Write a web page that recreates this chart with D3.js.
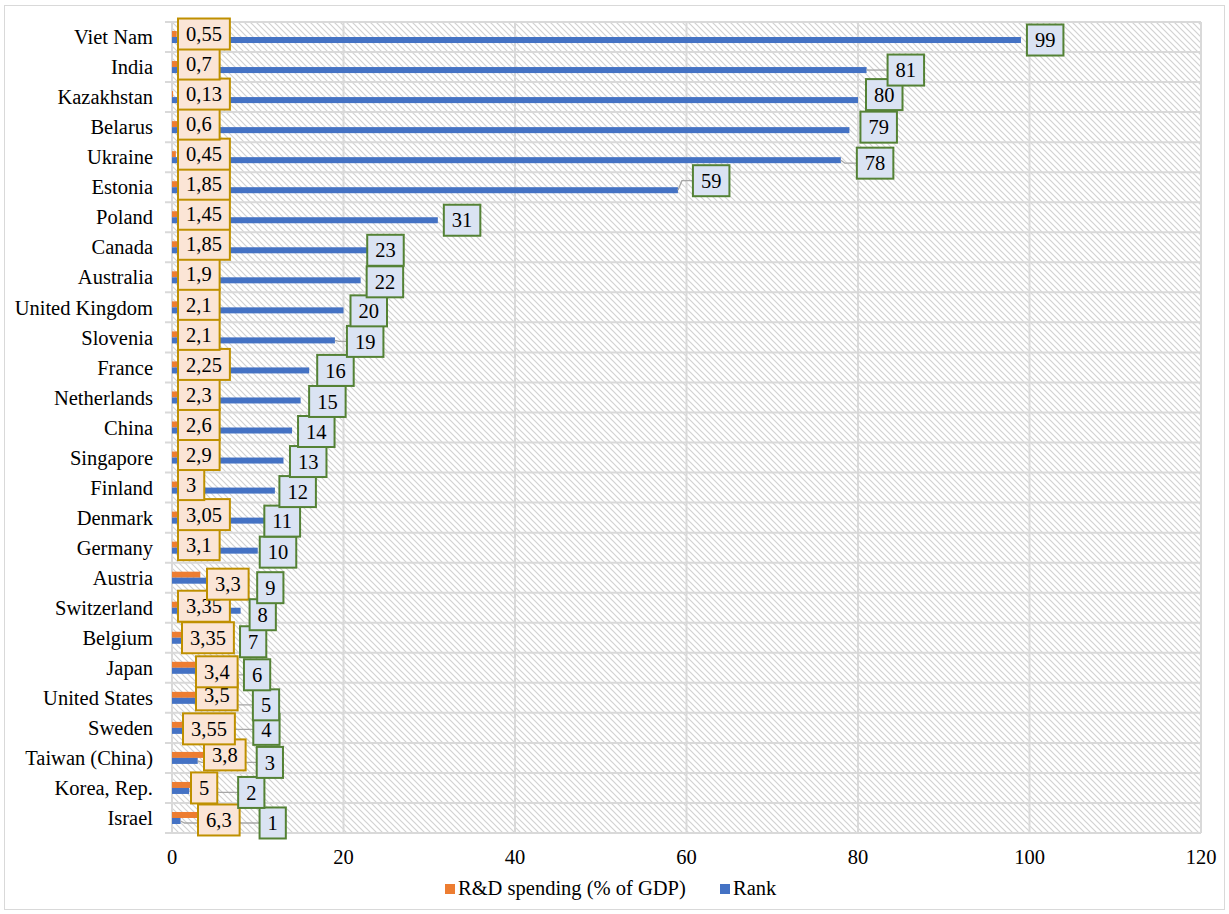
<!DOCTYPE html>
<html>
<head>
<meta charset="utf-8">
<script src="https://cdn.jsdelivr.net/npm/d3@7"></script>
<style>
  body { margin: 0; background: #fff; }
  svg text { font-family: "Liberation Serif", "Times New Roman", serif; fill: #000; }
</style>
</head>
<body>
<svg id="chart" width="1229" height="914"></svg>
<script>
// ---- data (top row first) ----
const countries = [
  "Viet Nam", "India", "Kazakhstan", "Belarus", "Ukraine", "Estonia", "Poland",
  "Canada", "Australia", "United Kingdom", "Slovenia", "France", "Netherlands",
  "China", "Singapore", "Finland", "Denmark", "Germany", "Austria", "Switzerland",
  "Belgium", "Japan", "United States", "Sweden", "Taiwan (China)", "Korea, Rep.", "Israel"
];
const rdSpending = [
  0.55, 0.7, 0.13, 0.6, 0.45, 1.85, 1.45, 1.85, 1.9, 2.1, 2.1, 2.25, 2.3,
  2.6, 2.9, 3, 3.05, 3.1, 3.3, 3.35, 3.35, 3.4, 3.5, 3.55, 3.8, 5, 6.3
];
const rankValues = [
  99, 81, 80, 79, 78, 59, 31, 23, 22, 20, 19, 16, 15, 14, 13, 12, 11, 10,
  9, 8, 7, 6, 5, 4, 3, 2, 1
];
const xTicks = [0, 20, 40, 60, 80, 100, 120];
const seriesNames = ["R&D spending (% of GDP)", "Rank"];

// ---- hand-moved data labels: pixel offsets from their default spot ----
const rdLabelShift = [
  [0, 0], [0, 0], [0, 0], [0, 0], [0, 0], [0, 0], [0, 0], [0, 0], [0, 0],
  [0, 0], [0, 0], [0, 0], [0, 0], [0, 0], [0, 0], [0, 0], [0, 0], [0, 0],
  [29, 9.5], [0, 1.5], [4, 3], [18, 7], [18, 0], [5, 4], [26, 0], [13, 3], [20, 5]
];
const rankLabelShift = [
  [0, 0], [15, 0], [2, -5.5], [5, -3], [10, 3], [9, -9.5], [0, 0], [-8, 0], [0, 1.5],
  [1, 0.5], [6, 1], [2, 0], [2.5, 1], [0, 1], [0.5, 1], [-1.5, 1], [-8, 0.5], [-4, 1.5],
  [2, 7], [3, 4], [2, 1], [14.5, 4], [32, 4], [41, -1.5], [53, 1.5], [43, 1.5], [73, 2]
];

// ---- layout ----
const plot = { left: 172, top: 22, right: 1201, bottom: 833 };
const colors = { rd: "#ED7D31", rank: "#4472C4", grid: "#d9d9d9" };
const fontSize = 20.5;
const fmt = d3.formatLocale({ decimal: ",", thousands: " ", grouping: [3], currency: ["", ""] }).format("~g");

const svg = d3.select("#chart");
const defs = svg.append("defs");

// diagonal hatch used as the plot area fill
const hatch = defs.append("pattern")
  .attr("id", "hatch").attr("patternUnits", "userSpaceOnUse")
  .attr("width", 6).attr("height", 6);
hatch.append("rect").attr("width", 6).attr("height", 6).attr("fill", "#fff");
hatch.append("path")
  .attr("d", "M-1,-1 L7,7 M-1,5 L1,7 M5,-1 L7,1")
  .attr("stroke", "#d2d2d2").attr("stroke-width", 1.2);

// outer chart border
svg.append("rect")
  .attr("x", 4.5).attr("y", 5.5).attr("width", 1220).attr("height", 904)
  .attr("fill", "#fff").attr("stroke", colors.grid).attr("stroke-width", 1);

const x = d3.scaleLinear().domain([0, 120]).range([plot.left, plot.right]);
const y = d3.scaleBand().domain(countries).range([plot.top, plot.bottom])
  .paddingInner(0.6).paddingOuter(0.3);
const ySeries = d3.scaleBand().domain(seriesNames).range([0, y.bandwidth()]);
const step = y.step();

// plot area background
svg.append("rect")
  .attr("x", plot.left).attr("y", plot.top)
  .attr("width", plot.right - plot.left).attr("height", plot.bottom - plot.top)
  .attr("fill", "url(#hatch)");

// vertical gridlines
svg.append("g").selectAll("line").data(xTicks).join("line")
  .attr("x1", d => x(d)).attr("x2", d => x(d))
  .attr("y1", plot.top).attr("y2", plot.bottom)
  .attr("stroke", colors.grid).attr("stroke-width", 2);

// horizontal gridlines on category boundaries, with outside tick marks
const bounds = d3.range(countries.length + 1).map(i => plot.top + i * step);
svg.append("g").selectAll("line").data(bounds).join("line")
  .attr("x1", plot.left - 7).attr("x2", plot.right)
  .attr("y1", d => d).attr("y2", d => d)
  .attr("stroke", colors.grid).attr("stroke-width", 2);

// category axis labels
svg.append("g").selectAll("text").data(countries).join("text")
  .attr("x", 153).attr("y", d => y(d) + y.bandwidth() / 2)
  .attr("dy", "0.35em").attr("text-anchor", "end")
  .attr("font-size", fontSize).text(d => d);

// value axis labels
svg.append("g").selectAll("text").data(xTicks).join("text")
  .attr("x", d => x(d)).attr("y", 864)
  .attr("text-anchor", "middle").attr("font-size", fontSize).text(d => d);

// bars
const rows = countries.map((c, i) => ({ c, i, rd: rdSpending[i], rank: rankValues[i] }));
const bh = ySeries.bandwidth();
svg.append("g").selectAll("rect").data(rows).join("rect")
  .attr("x", x(0)).attr("y", d => y(d.c) + ySeries(seriesNames[0]))
  .attr("width", d => x(d.rd) - x(0)).attr("height", bh)
  .attr("fill", colors.rd);
svg.append("g").selectAll("rect").data(rows).join("rect")
  .attr("x", x(0)).attr("y", d => y(d.c) + ySeries(seriesNames[1]))
  .attr("width", d => x(d.rank) - x(0)).attr("height", bh)
  .attr("fill", colors.rank);

// ---- data labels ----
const leaderLayer = svg.append("g");
const labelLayer = svg.append("g");
const boxH = 31, pad = 8;

function textWidth(str) {
  const t = labelLayer.append("text").attr("font-size", fontSize).text(str);
  const w = t.node().getComputedTextLength();
  t.remove();
  return w;
}

function addLabel(str, left, cy, fill, stroke) {
  const w = textWidth(str) + 2 * pad;
  const g = labelLayer.append("g");
  g.append("rect")
    .attr("x", left).attr("y", cy - boxH / 2)
    .attr("width", w).attr("height", boxH)
    .attr("fill", fill).attr("stroke", stroke).attr("stroke-width", 2);
  g.append("text")
    .attr("x", left + w / 2).attr("y", cy).attr("dy", "0.35em")
    .attr("text-anchor", "middle").attr("font-size", fontSize).text(str);
}

// labels are painted from the bottom row upward, first series then second
const order = d3.range(countries.length).reverse();

order.forEach(i => {
  const cy = y(countries[i]) + ySeries(seriesNames[0]) + bh / 2;
  const [dx, dy] = rdLabelShift[i];
  addLabel(fmt(rdSpending[i]), x(0) + 6 + dx, cy + dy, "#FBE5D6", "#BF9000");
});

order.forEach(i => {
  const barY = y(countries[i]) + ySeries(seriesNames[1]) + bh / 2;
  const end = x(rankValues[i]);
  const [dx, dy] = rankLabelShift[i];
  const left = end + 6 + dx, cy = barY + dy;
  if (left - end > 11) {
    leaderLayer.append("path")
      .attr("d", `M${end},${barY} L${end + 4},${cy} L${left},${cy}`)
      .attr("fill", "none").attr("stroke", "#a6a6a6").attr("stroke-width", 1.3);
  }
  addLabel(fmt(rankValues[i]), left, cy, "#DAE3F3", "#548235");
});

// ---- legend ----
const legend = svg.append("g");
const legendItems = [
  { name: seriesNames[0], color: colors.rd, x: 445 },
  { name: seriesNames[1], color: colors.rank, x: 720 }
];
legendItems.forEach(it => {
  legend.append("rect").attr("x", it.x).attr("y", 884).attr("width", 10).attr("height", 10)
    .attr("fill", it.color);
  legend.append("text").attr("x", it.x + 13).attr("y", 895)
    .attr("font-size", fontSize).text(it.name);
});
</script>
</body>
</html>
